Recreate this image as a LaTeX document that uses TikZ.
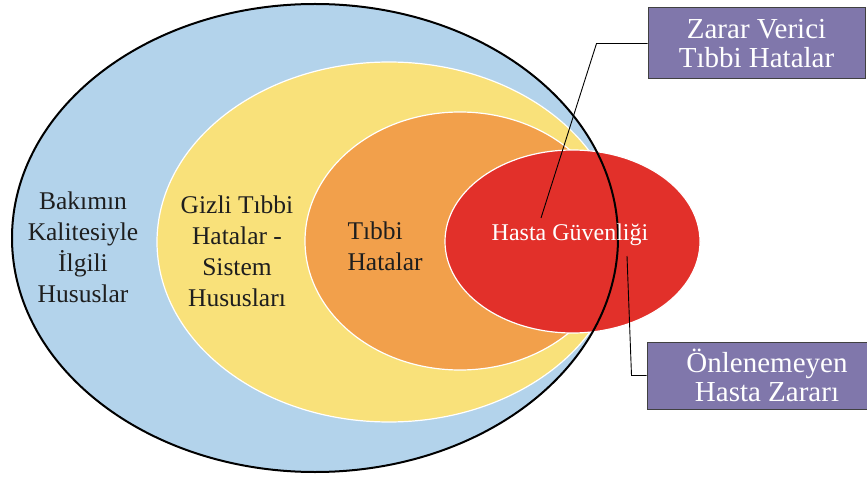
\documentclass[tikz,border=0pt]{standalone}
\usepackage{fontspec}
\setmainfont{Liberation Serif}
\usetikzlibrary{shapes.geometric}
\definecolor{cblue}{HTML}{B3D3EB}
\definecolor{cyellow}{HTML}{F9E17A}
\definecolor{corange}{HTML}{F2A04B}
\definecolor{cred}{HTML}{E2302A}
\definecolor{cpurple}{HTML}{8077AB}
\definecolor{ctext}{HTML}{1E1E1E}
\begin{document}
\begin{tikzpicture}[x=1pt,y=-1pt,
  zone/.style={ellipse, inner sep=0, draw=white, line width=1.2pt},
  lbl/.style={align=center, text=ctext, font=\fontsize{25.5}{31}\selectfont},
  infobox/.style={draw=black!75, line width=1pt, fill=cpurple, text=white, align=center, font=\fontsize{29}{29}\selectfont, inner sep=0},
  lead/.style={black, line width=0.9pt}]
\useasboundingbox (0,0) rectangle (867,481);
\clip (0,0) rectangle (867,481);
\fill[white] (0,0) rectangle (867,481);
\node[zone, fill=cblue, draw=none, minimum width=606, minimum height=468] (quality) at (315,238) {};
\node[zone, fill=cyellow, minimum width=464, minimum height=360] (hidden) at (389,242) {};
\node[zone, fill=corange, minimum width=310, minimum height=258] (errors) at (460,241) {};
\node[zone, fill=cred, minimum width=255, minimum height=183] (safety) at (572.5,241.5) {};
\node[ellipse, inner sep=0, draw=black, line width=2pt, minimum width=606, minimum height=468] (qualityline) at (315,238) {};
\node[lbl] (t1) at (83,247) {Bakımın\\Kalitesiyle\\İlgili\\Hususlar};
\node[lbl] (t2) at (237,251) {Gizli Tıbbi\\Hatalar -\\Sistem\\Hususları};
\node[lbl, align=left, anchor=west] (t3) at (344,246) {Tıbbi\\Hatalar};
\node[text=white, font=\fontsize{24}{28}\selectfont] (t4) at (570,235) {Hasta Güvenliği};
\node[infobox, minimum width=217, minimum height=71] (zarar) at (756.5,43.5) {Zarar Verici\\Tıbbi Hatalar};
\node[infobox, minimum width=240, minimum height=67] (onlen) at (767,375.5) {Önlenemeyen\\Hasta Zararı};
\coordinate (p1) at (541,218);
\coordinate (p2) at (627,256);
\draw[lead] (zarar.west) -- ++(-51,0) -- (p1);
\draw[lead] (onlen.west) -- ++(-15,0) -- (p2);
\end{tikzpicture}
\end{document}
